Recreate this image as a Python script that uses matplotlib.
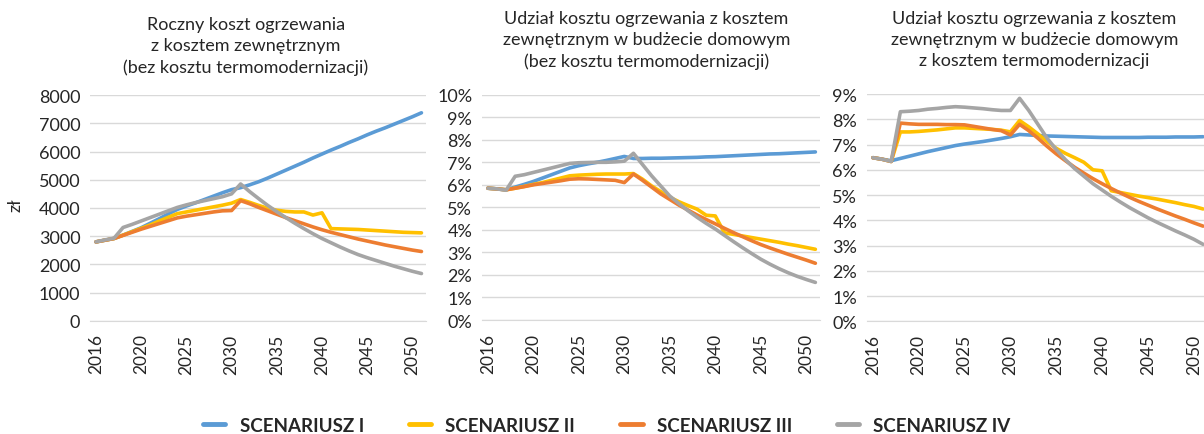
import numpy as np
import matplotlib
matplotlib.use("Agg")
import matplotlib.pyplot as plt
from matplotlib.lines import Line2D
from matplotlib.ticker import FuncFormatter

plt.rcParams['font.family'] = ['Lato', 'DejaVu Sans']

# etykiety osi lat (co piąty punkt)
year_labels = ['2016', '2020', '2025', '2030', '2035', '2040', '2045', '2050']
scenarios = ['SCENARIUSZ I', 'SCENARIUSZ II', 'SCENARIUSZ III', 'SCENARIUSZ IV']

# roczny koszt ogrzewania z kosztem zewnętrznym [zł]
cost_I = [2800, 2860, 2920, 3040, 3170, 3300, 3460, 3620, 3790, 3950,
          4070, 4180, 4300, 4420, 4540, 4650, 4720, 4820, 4930, 5060,
          5200, 5340, 5480, 5620, 5770, 5910, 6050, 6180, 6320, 6450,
          6590, 6720, 6840, 6970, 7100, 7230, 7370]
cost_II = [2800, 2860, 2920, 3040, 3160, 3280, 3400, 3540, 3670, 3800,
           3860, 3920, 3980, 4040, 4100, 4170, 4300, 4200, 4090, 3990,
           3920, 3880, 3860, 3860, 3750, 3830, 3270, 3260, 3250, 3240,
           3220, 3200, 3180, 3160, 3140, 3130, 3120]
cost_III = [2800, 2860, 2920, 3030, 3140, 3250, 3350, 3450, 3550, 3650,
            3710, 3760, 3810, 3860, 3900, 3910, 4260, 4150, 4020, 3900,
            3780, 3660, 3550, 3440, 3330, 3230, 3140, 3060, 2980, 2900,
            2830, 2760, 2690, 2630, 2570, 2510, 2460]
cost_IV = [2800, 2870, 2930, 3310, 3420, 3540, 3660, 3780, 3900, 4020,
           4110, 4190, 4260, 4330, 4400, 4500, 4850, 4580, 4330, 4090,
           3870, 3660, 3460, 3270, 3090, 2920, 2770, 2620, 2480, 2350,
           2240, 2140, 2040, 1940, 1850, 1760, 1680]

# udział w budżecie domowym bez termomodernizacji [%]
share_I = [5.85, 5.82, 5.78, 5.90, 6.02, 6.15, 6.30, 6.45, 6.60, 6.75,
           6.85, 6.93, 7.00, 7.08, 7.17, 7.26, 7.17, 7.17, 7.18, 7.18,
           7.19, 7.20, 7.21, 7.22, 7.24, 7.25, 7.27, 7.29, 7.31, 7.33,
           7.35, 7.37, 7.38, 7.40, 7.42, 7.44, 7.46]
share_II = [5.85, 5.82, 5.78, 5.85, 5.93, 6.02, 6.10, 6.20, 6.30, 6.40,
            6.43, 6.45, 6.47, 6.48, 6.48, 6.48, 6.50, 6.25, 5.95, 5.70,
            5.45, 5.25, 5.08, 4.92, 4.65, 4.62, 3.87, 3.80, 3.73, 3.66,
            3.59, 3.52, 3.45, 3.37, 3.30, 3.22, 3.14]
share_III = [5.85, 5.82, 5.78, 5.85, 5.92, 6.00, 6.06, 6.12, 6.18, 6.25,
             6.27, 6.26, 6.24, 6.22, 6.20, 6.10, 6.48, 6.20, 5.90, 5.60,
             5.35, 5.10, 4.88, 4.66, 4.46, 4.27, 4.07, 3.88, 3.70, 3.52,
             3.35, 3.20, 3.06, 2.92, 2.79, 2.66, 2.52]
share_IV = [5.85, 5.82, 5.76, 6.38, 6.45, 6.55, 6.65, 6.75, 6.85, 6.95,
            6.98, 6.99, 7.00, 7.00, 7.02, 7.05, 7.40, 6.90, 6.40, 5.95,
            5.50, 5.17, 4.85, 4.56, 4.29, 4.04, 3.76, 3.48, 3.21, 2.95,
            2.70, 2.48, 2.28, 2.10, 1.94, 1.80, 1.67]

# udział w budżecie domowym z kosztem termomodernizacji [%]
share_tm_I = [6.48, 6.42, 6.36, 6.45, 6.54, 6.63, 6.72, 6.80, 6.88, 6.96,
              7.02, 7.07, 7.12, 7.18, 7.24, 7.31, 7.40, 7.38, 7.36, 7.34,
              7.33, 7.32, 7.31, 7.30, 7.29, 7.28, 7.28, 7.28, 7.28, 7.28,
              7.29, 7.29, 7.29, 7.30, 7.30, 7.30, 7.31]
share_tm_II = [6.48, 6.42, 6.33, 7.50, 7.50, 7.52, 7.55, 7.58, 7.62, 7.66,
               7.66, 7.64, 7.62, 7.60, 7.57, 7.50, 7.95, 7.70, 7.42, 7.12,
               6.85, 6.65, 6.48, 6.30, 6.00, 5.96, 5.17, 5.10, 5.03, 4.96,
               4.90, 4.84, 4.77, 4.70, 4.62, 4.55, 4.45]
share_tm_III = [6.48, 6.42, 6.33, 7.85, 7.82, 7.80, 7.80, 7.80, 7.79, 7.79,
                7.78, 7.72, 7.66, 7.60, 7.55, 7.38, 7.80, 7.55, 7.25, 6.93,
                6.63, 6.36, 6.10, 5.87, 5.65, 5.45, 5.26, 5.08, 4.91, 4.75,
                4.60, 4.45, 4.31, 4.17, 4.04, 3.90, 3.77]
share_tm_IV = [6.48, 6.42, 6.33, 8.30, 8.32, 8.35, 8.40, 8.43, 8.47, 8.50,
               8.48, 8.45, 8.42, 8.38, 8.35, 8.35, 8.83, 8.35, 7.80, 7.25,
               6.80, 6.40, 6.05, 5.75, 5.45, 5.20, 4.95, 4.72, 4.50, 4.30,
               4.10, 3.92, 3.75, 3.58, 3.42, 3.25, 3.05]

colors = ['#5B9BD5', '#FFC000', '#ED7D31', '#A5A5A5']
text_col = '#262626'
grid_col = '#D9D9D9'

fig = plt.figure(figsize=(12.04, 4.35), dpi=100)

panels = [
    dict(rect=[0.0748, 0.2598, 0.279, 0.5195], series=[cost_I, cost_II, cost_III, cost_IV],
         ylim=(0, 8000), step=1000, pct=False,
         title="Roczny koszt ogrzewania\nz kosztem zewnętrznym\n(bez kosztu termomodernizacji)",
         tx=0.2043, ty=0.893),
    dict(rect=[0.4003, 0.262, 0.2807, 0.518], series=[share_I, share_II, share_III, share_IV],
         ylim=(0, 10), step=1, pct=True,
         title="Udział kosztu ogrzewania z kosztem\nzewnętrznym w budżecie domowym\n(bez kosztu termomodernizacji)",
         tx=0.537, ty=0.907),
    dict(rect=[0.720, 0.259, 0.283, 0.5225], series=[share_tm_I, share_tm_II, share_tm_III, share_tm_IV],
         ylim=(0, 9), step=1, pct=True,
         title="Udział kosztu ogrzewania z kosztem\nzewnętrznym w budżecie domowym\nz kosztem termomodernizacji",
         tx=0.859, ty=0.908),
]

for p in panels:
    ax = fig.add_axes(p['rect'])
    x = np.arange(len(p['series'][0]))
    for vals, c in zip(p['series'], colors):
        ax.plot(x, vals, color=c, lw=2.6, solid_joinstyle='round', solid_capstyle='round')
    lo, hi = p['ylim']
    ax.set_ylim(lo, hi)
    ax.set_xlim(-0.65, 36.5)
    ax.set_yticks(np.arange(lo, hi + p['step'] / 2, p['step']))
    if p['pct']:
        ax.yaxis.set_major_formatter(FuncFormatter(lambda v, _: f"{v:.0f}%"))
    ax.set_xticks(range(0, 5 * len(year_labels), 5))
    ax.set_xticklabels(year_labels, rotation=90, fontsize=12.5, color=text_col)
    ax.tick_params(axis='y', labelsize=13, labelcolor=text_col, length=0, pad=7)
    ax.tick_params(axis='x', length=0, pad=9)
    ax.grid(axis='y', color=grid_col, lw=1)
    ax.set_axisbelow(True)
    for s in ['top', 'right', 'left']:
        ax.spines[s].set_visible(False)
    ax.spines['bottom'].set_color(grid_col)
    fig.text(p['tx'], p['ty'], p['title'], ha='center', va='center',
             fontsize=13, color=text_col, linespacing=1.4)

fig.text(0.0125, 0.529, 'zł', rotation=90, ha='center', va='center', fontsize=13, color=text_col)

handles = [Line2D([], [], color=c, lw=3.5, solid_capstyle='round') for c in colors]
fig.legend(handles, scenarios, loc='center', bbox_to_anchor=(0.504, 0.02), ncol=4,
           frameon=False, handlelength=1.2, handletextpad=0.75, columnspacing=2.4,
           prop={'family': 'Lato', 'weight': 'bold', 'size': 13.5}, labelcolor=text_col)

fig.savefig('out.png', dpi=100)
